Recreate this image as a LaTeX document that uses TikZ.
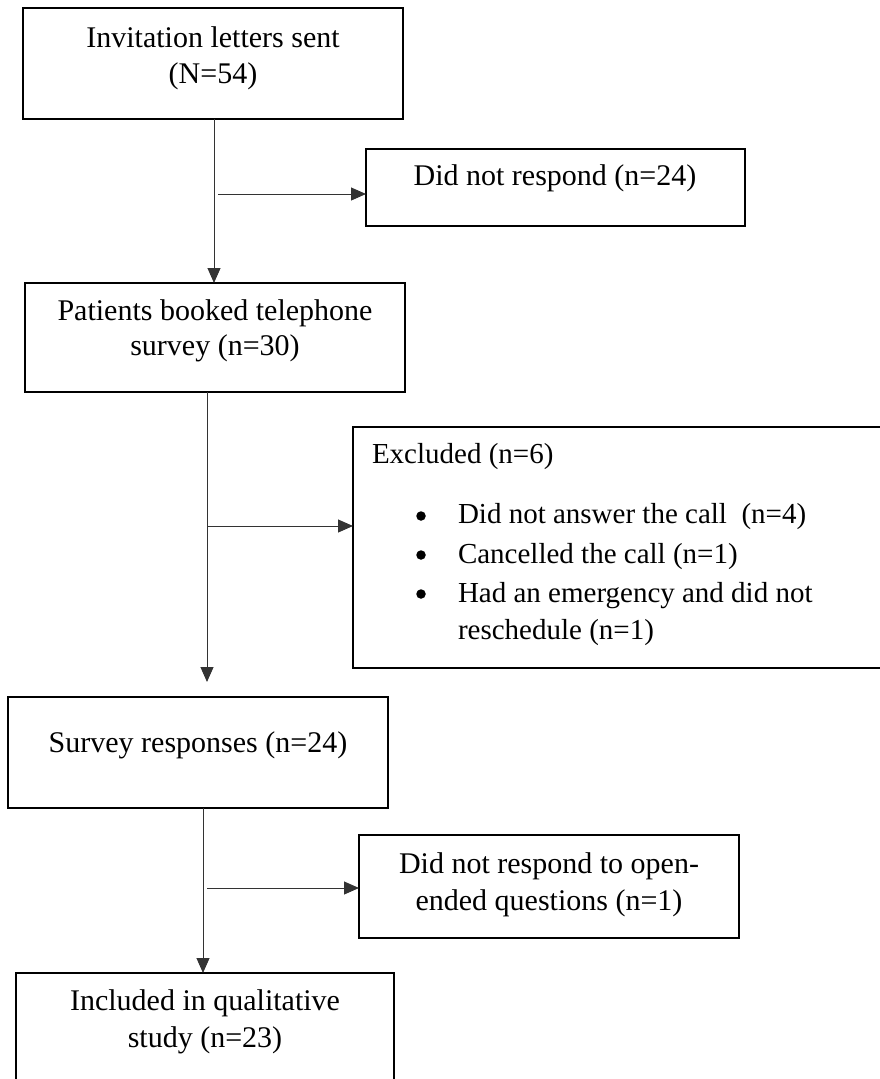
\documentclass[tikz,border=0pt]{standalone}
\usepackage{fontspec}
\setmainfont{Liberation Serif}
\usetikzlibrary{arrows.meta}
\begin{document}
\begin{tikzpicture}[x=1pt,y=-1pt,
  box/.style={draw=black,line width=1.5pt,inner sep=0pt,outer sep=0pt,anchor=north west},
  txt/.style={font=\fontsize{30}{36}\selectfont,inner sep=0pt,outer sep=0pt,anchor=base},
  ltxt/.style={txt,font=\fontsize{29}{36}\selectfont,anchor=base west},
  dot/.style={circle,fill=black,inner sep=0pt,minimum size=9.5pt},
  conn/.style={draw=black!80,line width=1pt},
  arr/.style={conn,-{Triangle[length=15pt,width=13pt]}}]
\useasboundingbox (0,0) rectangle (880,1079);
% boxes
\node[box,minimum width=380pt,minimum height=111pt] (b1) at (23,8) {};
\node[box,minimum width=379pt,minimum height=77pt] (b2) at (366,149) {};
\node[box,minimum width=380pt,minimum height=109pt] (b3) at (25,283) {};
\node[box,minimum width=535pt,minimum height=241pt] (b4) at (353,427) {};
\node[box,minimum width=380pt,minimum height=111pt] (b5) at (8,697) {};
\node[box,minimum width=380pt,minimum height=103pt] (b6) at (359,835) {};
\node[box,minimum width=378pt,minimum height=130pt] (b7) at (16,973) {};
% texts
\node[txt] (t1a) at (213,47) {Invitation letters sent};
\node[txt] (t1b) at (213,83) {(N=54)};
\node[txt] (t2) at (555,185) {Did not respond (n=24)};
\node[txt] (t3a) at (215,320) {Patients booked telephone};
\node[txt] (t3b) at (215,355) {survey (n=30)};
\node[ltxt] (t4) at (372,463) {Excluded (n=6)};
\node[dot] (d1) at (421,516) {};
\node[dot] (d2) at (421,555) {};
\node[dot] (d3) at (421,594) {};
\node[ltxt] (t4a) at (458,523) {Did not answer the call\ \ (n=4)};
\node[ltxt] (t4b) at (458,563) {Cancelled the call (n=1)};
\node[ltxt] (t4c) at (458,602) {Had an emergency and did not};
\node[ltxt] (t4d) at (458,639) {reschedule (n=1)};
\node[txt] (t5) at (198,752) {Survey responses (n=24)};
\node[txt] (t6a) at (549,873) {Did not respond to open-};
\node[txt] (t6b) at (549,910) {ended questions (n=1)};
\node[txt] (t7a) at (205,1010) {Included in qualitative};
\node[txt] (t7b) at (205,1047) {study (n=23)};
% connectors
\coordinate (v1) at (214,0);
\draw[arr] (v1 |- b1.south) -- (v1 |- b3.north);
\coordinate (j1) at (218,194);
\draw[arr] (j1) -- (j1 -| b2.west);
\coordinate (v2) at (207,0);
\draw[arr,shorten >=15pt] (v2 |- b3.south) -- (v2 |- b5.north);
\coordinate (j2) at (207,526);
\draw[arr] (j2) -- (j2 -| b4.west);
\coordinate (v3) at (203,0);
\draw[arr] (v3 |- b5.south) -- (v3 |- b7.north);
\coordinate (j3) at (207,888);
\draw[arr] (j3) -- (j3 -| b6.west);
\end{tikzpicture}
\end{document}
